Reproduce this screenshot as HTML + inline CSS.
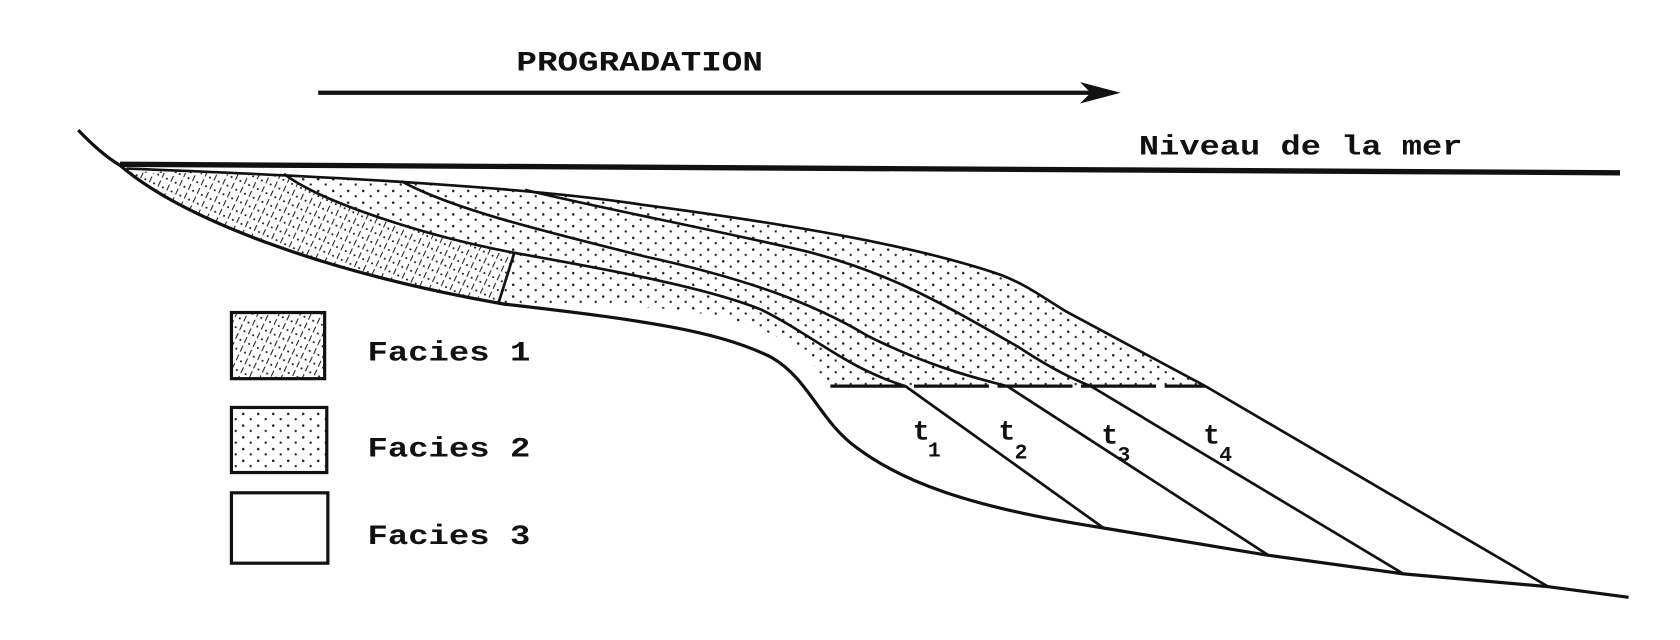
<!DOCTYPE html>
<html><head><meta charset="utf-8"><style>
html,body{margin:0;padding:0;background:#fff;}
svg{display:block}
text{font-family:"Liberation Mono",monospace;fill:#111;font-weight:bold;}
</style></head><body>
<svg width="1680" height="640" viewBox="0 0 1568 600" preserveAspectRatio="none" xmlns="http://www.w3.org/2000/svg">
<defs>
<pattern id="dots" width="14" height="11" patternUnits="userSpaceOnUse">
<rect width="14" height="11" fill="#fff"/>
<circle cx="3" cy="3" r="1.2" fill="#222"/>
<circle cx="10" cy="8" r="1.1" fill="#222"/>
</pattern>
<pattern id="hatch" width="9" height="9" patternUnits="userSpaceOnUse" patternTransform="rotate(25)">
<rect width="9" height="9" fill="#fff"/>
<line x1="0" y1="0" x2="0" y2="6" stroke="#222" stroke-width="2"/>
<circle cx="5" cy="5" r="1" fill="#222"/>
</pattern>
</defs>

<text x="482" y="66" font-size="26" textLength="230" lengthAdjust="spacingAndGlyphs">PROGRADATION</text>
<line x1="297" y1="87" x2="1030" y2="87" stroke="#111" stroke-width="4"/>
<path d="M1008 77 L1046 87 L1008 97 L1018 87 Z" fill="#111"/>

<text x="1063" y="145" font-size="26" textLength="302" lengthAdjust="spacingAndGlyphs">Niveau de la mer</text>
<path d="M112 154 L1512 162" stroke="#111" stroke-width="5" fill="none"/>
<path d="M73 122 Q95 145 112 155" stroke="#111" stroke-width="3" fill="none"/>

<!-- wedge dotted fill -->
<path d="M118 158 C300 165 490 175 600 192 C750 212 860 232 935 258 C960 268 975 280 995 292 L1125 362 L775 362 C750 330 740 320 700 305 C620 280 560 290 470 285 C350 265 200 220 118 158 Z" fill="url(#dots)"/>
<!-- facies 1 hatch -->
<path d="M120 162 C160 162 230 163 265 163 C300 190 400 222 480 237 L465 285 C350 265 200 220 120 162 Z" fill="url(#hatch)"/>

<!-- base profile -->
<path d="M112 155 C170 205 300 255 470 285 C600 300 670 310 720 335 C755 355 765 395 800 420 C840 450 900 475 1030 495 L1180 520 L1310 538 L1445 550 L1520 560" stroke="#111" stroke-width="3" fill="none"/>
<!-- top surface t4 -->
<path d="M118 158 C300 165 490 175 600 192 C750 212 860 232 935 258 C960 268 975 280 995 292 L1125 362 L1445 550" stroke="#111" stroke-width="2.5" fill="none"/>
<!-- t1 -->
<path d="M265 163 C300 190 400 222 480 237 C580 255 660 270 710 290 C760 315 790 345 845 362 L1030 495" stroke="#111" stroke-width="2.5" fill="none"/>
<!-- t2 -->
<path d="M375 170 C420 195 500 215 600 240 C700 262 760 285 810 315 C860 340 900 352 940 362 L1183 520" stroke="#111" stroke-width="2.5" fill="none"/>
<!-- t3 -->
<path d="M490 178 C560 195 650 212 750 235 C830 255 880 285 950 325 C980 345 1000 355 1018 362 L1310 538" stroke="#111" stroke-width="2.5" fill="none"/>
<!-- facies boundary -->
<line x1="480" y1="237" x2="465" y2="285" stroke="#111" stroke-width="2.5"/>
<!-- dashed -->
<line x1="775" y1="362" x2="1125" y2="362" stroke="#111" stroke-width="3" stroke-dasharray="70 8"/>

<text x="852" y="412" font-size="26">t</text><text x="866" y="428" font-size="20">1</text>
<text x="932" y="412" font-size="26">t</text><text x="947" y="430" font-size="20">2</text>
<text x="1028" y="416" font-size="26">t</text><text x="1043" y="432" font-size="20">3</text>
<text x="1123" y="416" font-size="26">t</text><text x="1138" y="432" font-size="20">4</text>

<rect x="216" y="293" width="87" height="62" fill="url(#hatch)" stroke="#111" stroke-width="3"/>
<rect x="216" y="382" width="89" height="61" fill="url(#dots)" stroke="#111" stroke-width="3"/>
<rect x="216" y="462" width="90" height="66" fill="#fff" stroke="#111" stroke-width="3"/>
<text x="343" y="338" font-size="26" textLength="152" lengthAdjust="spacingAndGlyphs">Facies 1</text>
<text x="343" y="428" font-size="26" textLength="152" lengthAdjust="spacingAndGlyphs">Facies 2</text>
<text x="343" y="510" font-size="26" textLength="152" lengthAdjust="spacingAndGlyphs">Facies 3</text>
</svg>
</body></html>
